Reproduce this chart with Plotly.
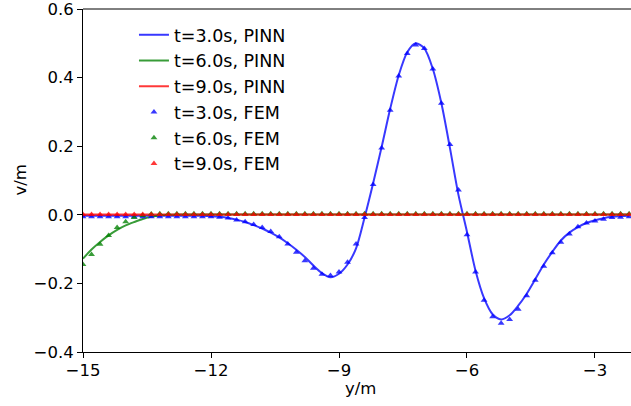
import plotly.graph_objects as go

# Grid of y/m positions (FEM nodes and PINN evaluation points)
Y_POS = [-15.0, -14.8, -14.6, -14.4, -14.2, -14.0, -13.8, -13.6, -13.4, -13.2,
         -13.0, -12.8, -12.6, -12.4, -12.2, -12.0, -11.8, -11.6, -11.4, -11.2,
         -11.0, -10.8, -10.6, -10.4, -10.2, -10.0, -9.8, -9.6, -9.4, -9.2,
         -9.0, -8.8, -8.6, -8.4, -8.2, -8.0, -7.8, -7.6, -7.4, -7.2,
         -7.0, -6.8, -6.6, -6.4, -6.2, -6.0, -5.8, -5.6, -5.4, -5.2,
         -5.0, -4.8, -4.6, -4.4, -4.2, -4.0, -3.8, -3.6, -3.4, -3.2,
         -3.0, -2.8, -2.6, -2.4, -2.2]

PINN_T3 = [-0.003, -0.003, -0.003, -0.003, -0.003, -0.003, -0.003, -0.003, -0.003, -0.003,
           -0.003, -0.003, -0.003, -0.003, -0.003, -0.004, -0.006, -0.009, -0.014, -0.021,
           -0.030, -0.040, -0.052, -0.066, -0.083, -0.102, -0.123, -0.148, -0.170, -0.182,
           -0.172, -0.145, -0.098, -0.008, 0.092, 0.198, 0.309, 0.407, 0.474, 0.500,
           0.485, 0.425, 0.325, 0.195, 0.058, -0.050, -0.163, -0.243, -0.290, -0.305,
           -0.293, -0.265, -0.230, -0.188, -0.145, -0.108, -0.075, -0.052, -0.036, -0.024,
           -0.016, -0.010, -0.006, -0.004, -0.003]

PINN_T6 = [-0.128, -0.101, -0.079, -0.060, -0.044, -0.031, -0.021, -0.012, -0.006, -0.002,
           0.000, 0.001, 0.001, 0.001, 0.001, 0.001, 0.001, 0.001, 0.001, 0.001,
           0.001, 0.001, 0.001, 0.001, 0.001, 0.001, 0.001, 0.001, 0.001, 0.001,
           0.001, 0.001, 0.001, 0.001, 0.001, 0.001, 0.001, 0.001, 0.001, 0.001,
           0.001, 0.001, 0.001, 0.001, 0.001, 0.001, 0.001, 0.001, 0.001, 0.001,
           0.001, 0.001, 0.001, 0.001, 0.001, 0.001, 0.001, 0.001, 0.001, 0.001,
           0.001, 0.001, 0.001, 0.001, 0.001]

PINN_T9 = [0.001] * 65

FEM_T3 = [-0.006, -0.006, -0.006, -0.006, -0.006, -0.006, -0.006, -0.006, -0.006, -0.006,
          -0.006, -0.006, -0.006, -0.006, -0.006, -0.006, -0.007, -0.009, -0.015, -0.020,
          -0.028, -0.037, -0.049, -0.064, -0.085, -0.109, -0.134, -0.156, -0.173, -0.177,
          -0.167, -0.138, -0.085, -0.008, 0.088, 0.195, 0.305, 0.405, 0.470, 0.495,
          0.485, 0.425, 0.325, 0.205, 0.072, -0.058, -0.167, -0.249, -0.297, -0.316,
          -0.305, -0.275, -0.236, -0.191, -0.150, -0.111, -0.080, -0.056, -0.035, -0.024,
          -0.018, -0.013, -0.008, -0.007, -0.006]

FEM_T6 = [-0.145, -0.116, -0.086, -0.060, -0.037, -0.020, -0.008, -0.002, 0.002, 0.003,
          0.003, 0.003, 0.003, 0.003, 0.003, 0.003, 0.003, 0.003, 0.003, 0.003,
          0.003, 0.003, 0.003, 0.003, 0.003, 0.003, 0.003, 0.003, 0.003, 0.003,
          0.003, 0.003, 0.003, 0.003, 0.003, 0.003, 0.003, 0.003, 0.003, 0.003,
          0.003, 0.003, 0.003, 0.003, 0.003, 0.003, 0.003, 0.003, 0.003, 0.003,
          0.003, 0.003, 0.003, 0.003, 0.003, 0.003, 0.003, 0.003, 0.003, 0.003,
          0.003, 0.003, 0.003, 0.003, 0.003]

FEM_T9 = [0.001] * 65

X_TICKS = [-15, -12, -9, -6, -3]
X_TICK_TEXT = ["\u221215", "\u221212", "\u22129", "\u22126", "\u22123"]
Y_TICKS = [-0.4, -0.2, 0.0, 0.2, 0.4, 0.6]
Y_TICK_TEXT = ["\u22120.4", "\u22120.2", "0.0", "0.2", "0.4", "0.6"]

BLUE = "rgba(0,0,255,0.78)"
GREEN = "rgba(0,128,0,0.78)"
RED = "rgba(255,0,0,0.78)"
FONT = "DejaVu Sans"

fig = go.Figure()
for name, ys, col in [("t=3.0s, PINN", PINN_T3, BLUE),
                      ("t=6.0s, PINN", PINN_T6, GREEN),
                      ("t=9.0s, PINN", PINN_T9, RED)]:
    fig.add_trace(go.Scatter(x=Y_POS, y=ys, mode="lines", name=name,
                             line=dict(color=col, width=2, shape="spline", smoothing=0.8)))
for name, ys, col in [("t=3.0s, FEM", FEM_T3, BLUE),
                      ("t=6.0s, FEM", FEM_T6, GREEN),
                      ("t=9.0s, FEM", FEM_T9, RED)]:
    fig.add_trace(go.Scatter(x=Y_POS, y=ys, mode="markers", name=name,
                             marker=dict(symbol="triangle-up", size=6, color=col,
                                         line=dict(width=0))))

fig.update_layout(
    width=631, height=406,
    margin=dict(l=83, r=0, t=6, b=54),
    plot_bgcolor="white", paper_bgcolor="white",
    font=dict(family=FONT, size=16.5, color="black"),
    showlegend=True,
    legend=dict(x=0.093, y=0.977, xanchor="left", yanchor="top",
                bgcolor="rgba(0,0,0,0)", borderwidth=0,
                font=dict(family=FONT, size=17.5), tracegroupgap=0),
    xaxis=dict(range=[-15, -2.156], tickvals=X_TICKS, ticktext=X_TICK_TEXT,
               showgrid=False, zeroline=False, showline=True, linecolor="black",
               linewidth=1, ticks="outside", ticklen=5, tickcolor="black",
               ticklabelstandoff=-2,
               tickfont=dict(family=FONT, size=16.5)),
    yaxis=dict(range=[-0.4, 0.6], tickvals=Y_TICKS, ticktext=Y_TICK_TEXT,
               showgrid=False, zeroline=False, showline=True, linecolor="black",
               linewidth=1, ticks="outside", ticklen=5, tickcolor="black",
               ticklabeloverflow="allow",
               tickfont=dict(family=FONT, size=16.5)),
    shapes=[dict(type="line", xref="paper", yref="paper", x0=0, x1=1, y0=1, y1=1,
                 line=dict(color="black", width=1))],
    annotations=[
        dict(text="y/m", xref="paper", yref="paper", x=0.507, y=0, yshift=-36,
             xanchor="center", yanchor="middle", showarrow=False,
             font=dict(family=FONT, size=16.5)),
        dict(text="v/m", xref="paper", yref="paper", x=0, y=0.5, xshift=-63,
             xanchor="center", yanchor="middle", textangle=-90, showarrow=False,
             font=dict(family=FONT, size=16.5)),
    ],
)

fig.write_html("out.html")
